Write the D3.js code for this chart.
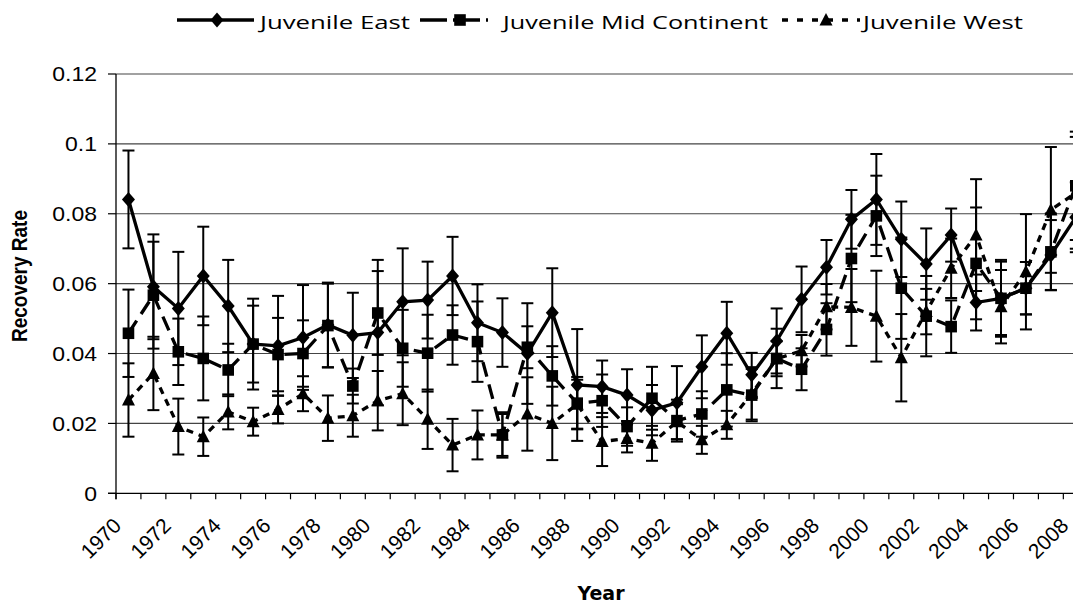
<!DOCTYPE html>
<html>
<head>
<meta charset="utf-8">
<script src="https://cdn.jsdelivr.net/npm/d3@7"></script>
<style>
  body { margin: 0; background: #fff; }
  svg { display: block; }
</style>
</head>
<body>
<svg id="chart" width="1073" height="606"></svg>
<script>
// Banding recovery rates of juvenile birds by flyway region, 1970-2008
const years = [1970, 1971, 1972, 1973, 1974, 1975, 1976, 1977, 1978, 1979,
               1980, 1981, 1982, 1983, 1984, 1985, 1986, 1987, 1988, 1989,
               1990, 1991, 1992, 1993, 1994, 1995, 1996, 1997, 1998, 1999,
               2000, 2001, 2002, 2003, 2004, 2005, 2006, 2007, 2008];
const yearLabels = [1970, 1972, 1974, 1976, 1978, 1980, 1982, 1984, 1986, 1988,
                    1990, 1992, 1994, 1996, 1998, 2000, 2002, 2004, 2006, 2008];

const eastRate = [0.0841, 0.0591, 0.0529, 0.0622, 0.0536, 0.0427, 0.0422, 0.0446, 0.0482, 0.0452,
                  0.0460, 0.0548, 0.0553, 0.0622, 0.0488, 0.0460, 0.0400, 0.0517, 0.0310, 0.0305,
                  0.0281, 0.0238, 0.0259, 0.0362, 0.0458, 0.0339, 0.0436, 0.0555, 0.0647, 0.0784,
                  0.0841, 0.0727, 0.0656, 0.0739, 0.0546, 0.0558, 0.0587, 0.0682, 0.0790];
const eastErr  = [0.0140, 0.0150, 0.0162, 0.0141, 0.0132, 0.0130, 0.0143, 0.0150, 0.0121, 0.0122,
                  0.0208, 0.0153, 0.0110, 0.0112, 0.0110, 0.0098, 0.0144, 0.0127, 0.0160, 0.0075,
                  0.0074, 0.0072, 0.0105, 0.0090, 0.0090, 0.0063, 0.0093, 0.0094, 0.0078, 0.0084,
                  0.0130, 0.0108, 0.0102, 0.0076, 0.0080, 0.0105, 0.0075, 0.0100, 0.0100];

const midRate  = [0.0458, 0.0567, 0.0405, 0.0386, 0.0353, 0.0427, 0.0397, 0.0400, 0.0480, 0.0307,
                  0.0516, 0.0415, 0.0401, 0.0453, 0.0434, 0.0167, 0.0418, 0.0336, 0.0258, 0.0265,
                  0.0191, 0.0272, 0.0208, 0.0227, 0.0296, 0.0281, 0.0386, 0.0355, 0.0469, 0.0672,
                  0.0794, 0.0587, 0.0507, 0.0477, 0.0658, 0.0558, 0.0587, 0.0691, 0.0880];
const midErr   = [0.0125, 0.0153, 0.0095, 0.0120, 0.0075, 0.0110, 0.0105, 0.0095, 0.0120, 0.0050,
                  0.0120, 0.0110, 0.0110, 0.0085, 0.0115, 0.0065, 0.0060, 0.0085, 0.0075, 0.0075,
                  0.0055, 0.0090, 0.0060, 0.0065, 0.0105, 0.0075, 0.0085, 0.0060, 0.0075, 0.0125,
                  0.0115, 0.0145, 0.0115, 0.0075, 0.0160, 0.0110, 0.0075, 0.0110, 0.0155];

const westRate = [0.0267, 0.0343, 0.0191, 0.0162, 0.0233, 0.0205, 0.0240, 0.0285, 0.0215, 0.0222,
                  0.0265, 0.0285, 0.0212, 0.0138, 0.0167, 0.0167, 0.0227, 0.0200, 0.0255, 0.0148,
                  0.0157, 0.0143, 0.0205, 0.0153, 0.0196, 0.0286, 0.0385, 0.0408, 0.0534, 0.0532,
                  0.0507, 0.0388, 0.0520, 0.0644, 0.0739, 0.0534, 0.0634, 0.0811, 0.0860];
const westErr  = [0.0105, 0.0105, 0.0080, 0.0055, 0.0050, 0.0040, 0.0040, 0.0050, 0.0065, 0.0060,
                  0.0085, 0.0090, 0.0085, 0.0075, 0.0070, 0.0060, 0.0105, 0.0105, 0.0070, 0.0070,
                  0.0040, 0.0050, 0.0050, 0.0040, 0.0040, 0.0075, 0.0050, 0.0045, 0.0065, 0.0110,
                  0.0130, 0.0125, 0.0065, 0.0085, 0.0160, 0.0105, 0.0165, 0.0180, 0.0160];

const yTicks = [0, 0.02, 0.04, 0.06, 0.08, 0.1, 0.12];
const yTickLabels = ["0", "0.02", "0.04", "0.06", "0.08", "0.1", "0.12"];

const seriesNames = ["Juvenile East", "Juvenile Mid Continent", "Juvenile West"];

// ---- layout ----
const svg = d3.select("#chart");
const plotLeft = 116, plotBottom = 493.3, plotTop = 74, catWidth = 24.93;
const SX = 1.15;               // horizontal glyph stretch used for axis text
const ARIAL = "'Liberation Sans', Arial, sans-serif";

const x = d3.scaleBand()
  .domain(years)
  .range([plotLeft, plotLeft + catWidth * years.length])
  .paddingInner(0).paddingOuter(0);
const y = d3.scaleLinear().domain([0, 0.12]).range([plotBottom, plotTop]);
const cx = yr => x(yr) + x.bandwidth() / 2;

// gridlines
svg.append("g").selectAll("line")
  .data(yTicks.filter(t => t > 0))
  .join("line")
  .attr("x1", plotLeft).attr("x2", 1073)
  .attr("y1", d => y(d)).attr("y2", d => y(d))
  .attr("stroke", "#444").attr("stroke-width", 1.1);

// y axis
const yAxis = svg.append("g");
yAxis.append("line")
  .attr("x1", plotLeft).attr("x2", plotLeft)
  .attr("y1", plotTop).attr("y2", plotBottom + 6)
  .attr("stroke", "#000").attr("stroke-width", 1.3);
yAxis.selectAll("line.tick")
  .data(yTicks).join("line").attr("class", "tick")
  .attr("x1", plotLeft - 8).attr("x2", plotLeft)
  .attr("y1", d => y(d)).attr("y2", d => y(d))
  .attr("stroke", "#000").attr("stroke-width", 1.2);
yAxis.selectAll("text")
  .data(yTicks).join("text")
  .attr("transform", d => `translate(97,${y(d) + 7.2}) scale(${SX},1)`)
  .attr("text-anchor", "end")
  .attr("font-family", ARIAL).attr("font-size", 20)
  .text((d, i) => yTickLabels[i]);

// x axis
const xAxis = svg.append("g");
xAxis.append("line")
  .attr("x1", plotLeft - 8).attr("x2", plotLeft + catWidth * years.length)
  .attr("y1", plotBottom).attr("y2", plotBottom)
  .attr("stroke", "#000").attr("stroke-width", 1.3);
xAxis.selectAll("line.tick")
  .data(years.concat([null])).join("line").attr("class", "tick")
  .attr("x1", (d, i) => plotLeft + i * x.step())
  .attr("x2", (d, i) => plotLeft + i * x.step())
  .attr("y1", plotBottom).attr("y2", plotBottom + 6)
  .attr("stroke", "#000").attr("stroke-width", 1.2);
xAxis.selectAll("text")
  .data(yearLabels).join("text")
  .attr("transform", d => `translate(${cx(d) - 6},527) rotate(-45)`)
  .attr("text-anchor", "end")
  .attr("font-family", ARIAL).attr("font-size", 21)
  .text(d => d);

// axis titles
svg.append("text")
  .attr("x", 601).attr("y", 600)
  .attr("text-anchor", "middle")
  .attr("font-family", "'DejaVu Sans', Verdana, sans-serif")
  .attr("font-weight", "bold").attr("font-size", 19)
  .text("Year");
svg.append("text")
  .attr("transform", `translate(27,276) scale(${SX},1) rotate(-90)`)
  .attr("text-anchor", "middle")
  .attr("font-family", ARIAL)
  .attr("font-weight", "bold").attr("font-size", 19)
  .text("Recovery Rate");

// ---- marker shapes ----
const markerPath = {
  diamond: (px, py) => `M${px},${py - 7.5}L${px + 6.5},${py}L${px},${py + 7.5}L${px - 6.5},${py}Z`,
  square:  (px, py) => `M${px - 5.8},${py - 5.8}h11.6v11.6h-11.6Z`,
  triangle:(px, py) => `M${px},${py - 7}L${px + 6.5},${py + 5.5}L${px - 6.5},${py + 5.5}Z`
};

const series = [
  { name: seriesNames[2], rate: westRate, err: westErr, dash: "7,6",  marker: "triangle" },
  { name: seriesNames[1], rate: midRate,  err: midErr,  dash: "15,8", marker: "square" },
  { name: seriesNames[0], rate: eastRate, err: eastErr, dash: null,   marker: "diamond" }
];

const line = d3.line().x(d => cx(d.year)).y(d => y(d.v));

series.forEach(s => {
  const pts = years.map((yr, i) => ({ year: yr, v: s.rate[i], e: s.err[i] }));
  const g = svg.append("g");

  g.append("path")
    .datum(pts)
    .attr("d", line)
    .attr("fill", "none").attr("stroke", "#000")
    .attr("stroke-width", 3.3)
    .attr("stroke-dasharray", s.dash);

  const eb = g.append("g").attr("stroke", "#000").attr("stroke-width", 2);
  eb.selectAll("line.bar").data(pts).join("line").attr("class", "bar")
    .attr("x1", d => cx(d.year)).attr("x2", d => cx(d.year))
    .attr("y1", d => y(d.v - d.e)).attr("y2", d => y(d.v + d.e));
  eb.selectAll("line.capHi").data(pts).join("line").attr("class", "capHi")
    .attr("x1", d => cx(d.year) - 6).attr("x2", d => cx(d.year) + 6)
    .attr("y1", d => y(d.v + d.e)).attr("y2", d => y(d.v + d.e));
  eb.selectAll("line.capLo").data(pts).join("line").attr("class", "capLo")
    .attr("x1", d => cx(d.year) - 6).attr("x2", d => cx(d.year) + 6)
    .attr("y1", d => y(d.v - d.e)).attr("y2", d => y(d.v - d.e));

  g.selectAll("path.mk").data(pts).join("path").attr("class", "mk")
    .attr("d", d => markerPath[s.marker](cx(d.year), y(d.v)))
    .attr("fill", "#000");
});

// ---- legend ----
const legendItems = [
  { name: seriesNames[0], x0: 177, x1: 254, mx: 217, tx: 260, tw: 150, dash: null,  marker: "diamond" },
  { name: seriesNames[1], x0: 420, x1: 488, mx: 460, tx: 503, tw: 265, dash: "27,6", marker: "square" },
  { name: seriesNames[2], x0: 782, x1: 860, mx: 826, tx: 863, tw: 160, dash: "6,9", marker: "triangle" }
];
const lg = svg.append("g");
legendItems.forEach(it => {
  lg.append("line")
    .attr("x1", it.x0).attr("x2", it.x1).attr("y1", 20).attr("y2", 20)
    .attr("stroke", "#000").attr("stroke-width", 3.3)
    .attr("stroke-dasharray", it.dash);
  lg.append("path").attr("d", markerPath[it.marker](it.mx, 20)).attr("fill", "#000");
  lg.append("text")
    .attr("x", it.tx).attr("y", 29)
    .attr("font-family", "'Open Sans', sans-serif").attr("font-size", 18.5)
    .attr("textLength", it.tw).attr("lengthAdjust", "spacingAndGlyphs")
    .text(it.name);
});
</script>
</body>
</html>
